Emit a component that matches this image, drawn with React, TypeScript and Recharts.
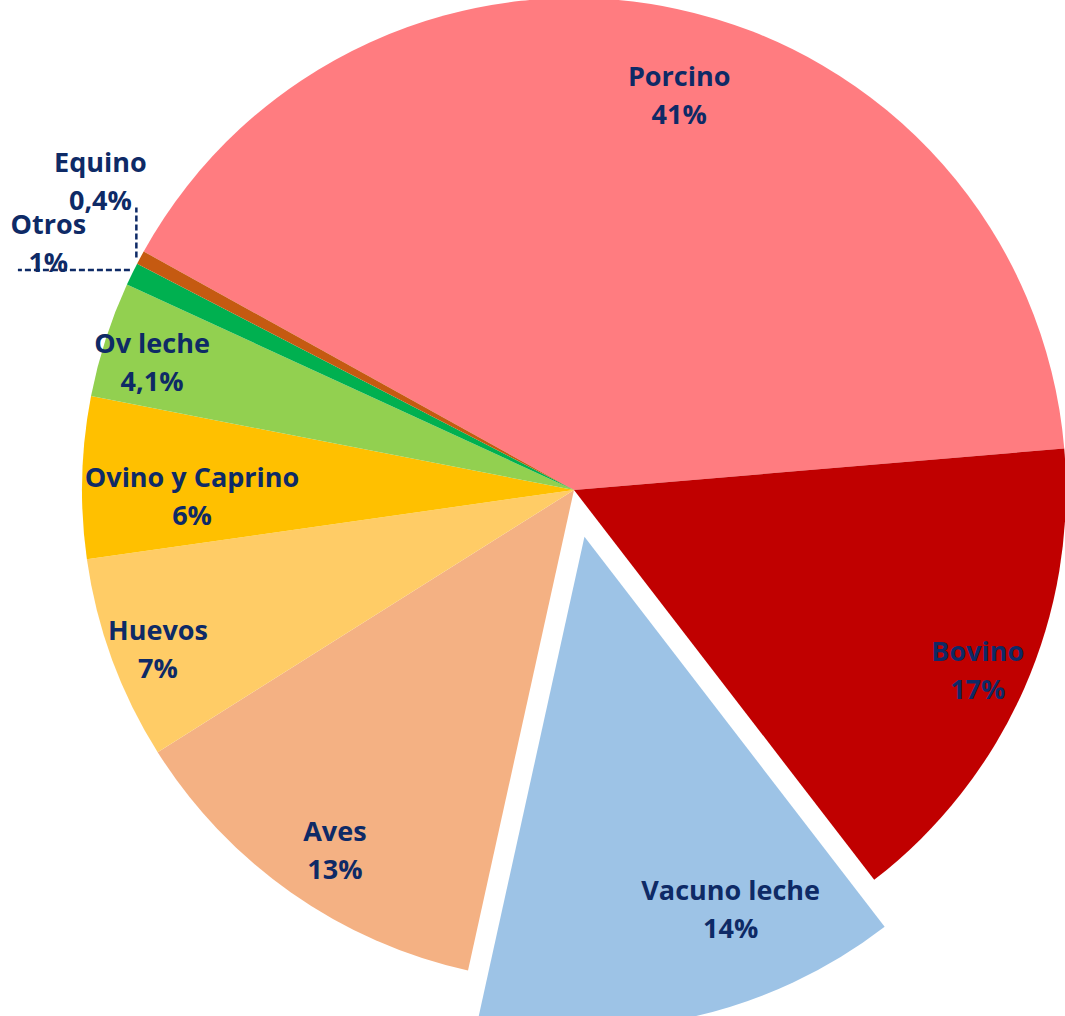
import React from 'react';
import { PieChart, Pie, Cell } from 'recharts';

const categories = ['Porcino', 'Bovino', 'Vacuno leche', 'Aves', 'Huevos', 'Ovino y Caprino', 'Ov leche', 'Otros', 'Equino'];
const shares = [40.6, 15.9, 13.9, 12.6, 6.7, 5.3, 3.8, 0.75, 0.45];
const pctLabels = ['41%', '17%', '14%', '13%', '7%', '6%', '4,1%', '1%', '0,4%'];

const colors = ['#FF7C80', '#C00000', '#9DC3E6', '#F4B183', '#FFCC66', '#FFC000', '#92D050', '#00B050', '#C55A11'];
const labelAngles = [75.1, -24, -68.5, -123.6, -159.2, -179.25, 163.1, 154.8, 146.8];
const labelRadii = [409, 442, 399, 432, 445, 382, 441, 581, 566];
const explodedIndex = 2;
const explodeDist = 48;
const leaders: Record<number, { dir: 'h' | 'v'; len: number; dx: number; dy: number }> = {
  7: { dir: 'h', len: 112, dx: -2, dy: -4 },
  8: { dir: 'v', len: 50, dx: -4, dy: 0 },
};

const data = categories.map((name, i) => ({ name, value: shares[i], pct: pctLabels[i] }));

const W = 1065;
const H = 1016;
const CX = 574;
const CY = 490;
const R = 492;
const START = 151;
const RAD = Math.PI / 180;
const TEXT = '#0E2A66';

const total = shares.reduce((a, b) => a + b, 0);
const before = shares.slice(0, explodedIndex).reduce((a, b) => a + b, 0);
const explodedMid = START - (360 * (before + shares[explodedIndex] / 2)) / total;
const exDx = explodeDist * Math.cos(-explodedMid * RAD);
const exDy = explodeDist * Math.sin(-explodedMid * RAD);

const makeLabel = (only: (i: number) => boolean) => (props: any) => {
  const { cx, cy, index, midAngle, outerRadius } = props;
  if (!only(index)) return null;
  const a = labelAngles[index];
  const r = labelRadii[index];
  const x = cx + r * Math.cos(-a * RAD);
  const y = cy + r * Math.sin(-a * RAD);
  const ld = leaders[index];
  let line = null;
  if (ld) {
    const px = cx + outerRadius * Math.cos(-midAngle * RAD) + ld.dx;
    const py = cy + outerRadius * Math.sin(-midAngle * RAD) + ld.dy;
    const x2 = ld.dir === 'h' ? px - ld.len : px;
    const y2 = ld.dir === 'v' ? py - ld.len : py;
    line = (
      <line x1={px} y1={py} x2={x2} y2={y2} stroke={TEXT} strokeWidth={2.5} strokeDasharray="6 3" />
    );
  }
  return (
    <g key={`lbl-${index}`}>
      {line}
      <text
        x={x}
        y={y}
        textAnchor="middle"
        fill={TEXT}
        style={{ fontFamily: '"Open Sans", Lato, sans-serif', fontWeight: 700, fontSize: 27 }}
      >
        <tspan x={x} dy={-19} dominantBaseline="central">{categories[index]}</tspan>
        <tspan x={x} dy={38} dominantBaseline="central">{pctLabels[index]}</tspan>
      </text>
    </g>
  );
};

export default function App() {
  return (
    <div style={{ position: 'absolute', left: 0, top: 0, width: W, height: H, background: '#fff' }}>
      <PieChart width={W} height={H} margin={{ top: 0, right: 0, bottom: 0, left: 0 }}>
        <Pie
          data={data}
          dataKey="value"
          nameKey="name"
          cx={CX}
          cy={CY}
          outerRadius={R}
          startAngle={START}
          endAngle={START - 360}
          stroke="none"
          isAnimationActive={false}
          labelLine={false}
          label={makeLabel((i) => i !== explodedIndex)}
        >
          {data.map((d, i) => (
            <Cell key={d.name} fill={i === explodedIndex ? 'transparent' : colors[i]} stroke="none" />
          ))}
        </Pie>
        <Pie
          data={data}
          dataKey="value"
          nameKey="name"
          cx={CX + exDx}
          cy={CY + exDy}
          outerRadius={R}
          startAngle={START}
          endAngle={START - 360}
          stroke="none"
          isAnimationActive={false}
          labelLine={false}
          label={makeLabel((i) => i === explodedIndex)}
        >
          {data.map((d, i) => (
            <Cell key={d.name} fill={i === explodedIndex ? colors[i] : 'transparent'} stroke="none" />
          ))}
        </Pie>
      </PieChart>
    </div>
  );
}
